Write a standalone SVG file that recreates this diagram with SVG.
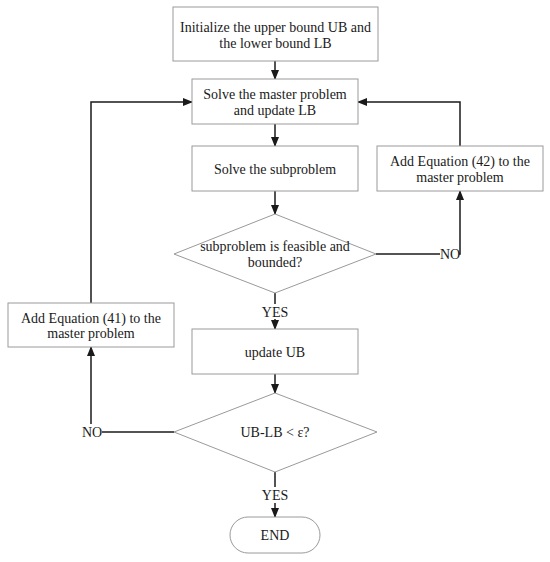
<svg xmlns="http://www.w3.org/2000/svg" width="550" height="562" viewBox="0 0 550 562">
<style>
.node{fill:#fff;stroke:#9a9a9a;stroke-width:1}
.t{font-family:"Liberation Serif","Times New Roman",serif;font-size:14px;fill:#1a1a1a;text-anchor:middle;dominant-baseline:central}
.c{fill:none;stroke:#1a1a1a;stroke-width:1.5}
.lbl{font-family:"Liberation Serif","Times New Roman",serif;font-size:14px;fill:#1a1a1a;text-anchor:middle;dominant-baseline:central}
</style>
<defs>
<marker id="ah" markerWidth="10" markerHeight="8" refX="9" refY="4" orient="auto" markerUnits="userSpaceOnUse">
<path d="M0,0 L10,4 L0,8 Z" fill="#1a1a1a"/>
</marker>
</defs>
<rect width="550" height="562" fill="#fff"/>
<g id="connectors">
<line class="c" x1="275" y1="61" x2="275" y2="79" marker-end="url(#ah)"/>
<line class="c" x1="275" y1="124" x2="275" y2="146" marker-end="url(#ah)"/>
<line class="c" x1="275" y1="191" x2="275" y2="214" marker-end="url(#ah)"/>
<line class="c" x1="275" y1="293" x2="275" y2="304"/>
<line class="c" x1="275" y1="319" x2="275" y2="329" marker-end="url(#ah)"/>
<polyline class="c" points="376,254 440,254"/>
<polyline class="c" points="459,254 460,254 460,191" marker-end="url(#ah)"/>
<polyline class="c" points="460,146 460,102 358,102" marker-end="url(#ah)"/>
<line class="c" x1="275" y1="374" x2="275" y2="393" marker-end="url(#ah)"/>
<polyline class="c" points="174,432 102,432"/>
<polyline class="c" points="91,424 91,347" marker-end="url(#ah)"/>
<polyline class="c" points="91,303 91,102 192,102" marker-end="url(#ah)"/>
<line class="c" x1="275" y1="472" x2="275" y2="487"/>
<line class="c" x1="275" y1="503" x2="275" y2="517" marker-end="url(#ah)"/>
<text class="lbl" x="275" y="312">YES</text>
<text class="lbl" x="450" y="254">NO</text>
<text class="lbl" x="92" y="432">NO</text>
<text class="lbl" x="275" y="495">YES</text>
</g>
<g id="init">
<rect class="node" x="173" y="7" width="205" height="54"/>
<text class="t" x="275.5" y="27">Initialize the upper bound UB and</text>
<text class="t" x="275.5" y="43">the lower bound LB</text>
</g>
<g id="master">
<rect class="node" x="192" y="79" width="166" height="45"/>
<text class="t" x="275" y="94">Solve the master problem</text>
<text class="t" x="275" y="110">and update LB</text>
</g>
<g id="sub">
<rect class="node" x="192" y="146" width="166" height="45"/>
<text class="t" x="275" y="169">Solve the subproblem</text>
</g>
<g id="add42">
<rect class="node" x="377" y="146" width="166" height="45"/>
<text class="t" x="460" y="161">Add Equation (42) to the</text>
<text class="t" x="460" y="177">master problem</text>
</g>
<g id="feasible">
<polygon class="node" points="275,214 376,254 275,293 174,254"/>
<text class="t" x="275" y="246">subproblem is feasible and</text>
<text class="t" x="275" y="262">bounded?</text>
</g>
<g id="add41">
<rect class="node" x="8" y="303" width="166" height="44"/>
<text class="t" x="91" y="318">Add Equation (41) to the</text>
<text class="t" x="91" y="333">master problem</text>
</g>
<g id="updateUB">
<rect class="node" x="192" y="329" width="166" height="45"/>
<text class="t" x="275" y="352">update UB</text>
</g>
<g id="converge">
<polygon class="node" points="275,393 377,432 275,472 174,432"/>
<text class="t" x="275" y="432">UB-LB &lt; ε?</text>
</g>
<g id="end">
<rect class="node" x="230" y="517" width="90" height="36" rx="18" ry="18"/>
<text class="t" x="275" y="535">END</text>
</g>
</svg>
